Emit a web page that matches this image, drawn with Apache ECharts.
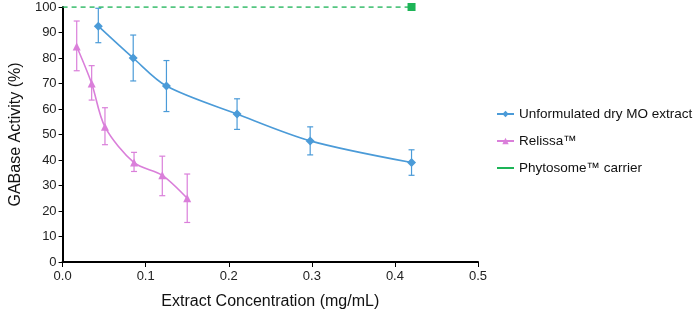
<!DOCTYPE html>
<html>
<head>
<meta charset="utf-8">
<script src="https://cdn.jsdelivr.net/npm/echarts@6/dist/echarts.min.js"></script>
<style>
  html, body { margin: 0; padding: 0; background: #fff; }
  #chart { width: 699px; height: 317px; }
</style>
</head>
<body>
<div id="chart"></div>
<script>
// Unformulated dry MO extract
const moX = [0.043, 0.085, 0.125, 0.21, 0.298, 0.42];
const moY = [92.5, 80, 69, 58, 47.5, 39];
const moLow = [86, 71, 59, 52, 42, 34];
const moHigh = [99.5, 89, 79, 64, 53, 44];

// Relissa
const relX = [0.017, 0.035, 0.051, 0.086, 0.12, 0.15];
const relY = [84.5, 70, 53, 39, 34, 25];
const relLow = [75, 63.5, 46, 35.5, 26, 15.5];
const relHigh = [94.5, 77, 60.5, 43, 41.5, 34.5];

// Phytosome carrier
const phyX = [0, 0.42];
const phyY = [100, 100];

const xTicks = [0, 0.1, 0.2, 0.3, 0.4, 0.5];

const blue = '#4b9bd8';
const pink = '#da7fda';
const green = '#1db457';

const chart = echarts.init(document.getElementById('chart'));

function errorSeries(xs, lows, highs, color) {
  return {
    type: 'custom',
    silent: true,
    z: 1,
    data: xs.map((x, i) => [x, lows[i], highs[i]]),
    renderItem: (params, api) => {
      const lo = api.coord([api.value(0), api.value(1)]);
      const hi = api.coord([api.value(0), api.value(2)]);
      const w = 3;
      const style = { stroke: color, lineWidth: 1.2 };
      return {
        type: 'group',
        children: [
          { type: 'line', shape: { x1: lo[0], y1: lo[1], x2: hi[0], y2: hi[1] }, style },
          { type: 'line', shape: { x1: lo[0] - w, y1: lo[1], x2: lo[0] + w, y2: lo[1] }, style },
          { type: 'line', shape: { x1: hi[0] - w, y1: hi[1], x2: hi[0] + w, y2: hi[1] }, style }
        ]
      };
    }
  };
}

const option = {
  animation: false,
  textStyle: { fontFamily: 'Liberation Sans, Arial, sans-serif' },
  grid: { left: 59, top: 7, width: 419, height: 255 },
  legend: {
    orient: 'vertical',
    left: 491,
    top: 102,
    itemGap: 13,
    itemWidth: 17,
    itemHeight: 8,
    textStyle: { fontSize: 13.5, color: '#111', fontFamily: 'Liberation Sans, Arial, sans-serif' },
    data: [
      'Unformulated dry MO extract',
      'Relissa™',
      { name: 'Phytosome™ carrier', lineStyle: { type: 'solid' }, itemStyle: { opacity: 0 } }
    ]
  },
  xAxis: {
    type: 'value',
    min: 0,
    max: 0.5,
    interval: 0.1,
    name: 'Extract Concentration (mg/mL)',
    nameLocation: 'middle',
    nameGap: 32,
    nameTextStyle: { fontSize: 16, color: '#111' },
    axisLine: { lineStyle: { color: '#000', width: 2 } },
    axisTick: { show: true, length: 5, lineStyle: { color: '#000', width: 1 } },
    axisLabel: {
      fontSize: 13, color: '#222', margin: 8,
      formatter: v => {
        const t = xTicks.find(k => Math.abs(k - v) < 1e-9);
        return t === undefined ? '' : t.toFixed(1);
      }
    },
    splitLine: { show: false }
  },
  yAxis: {
    type: 'value',
    min: 0,
    max: 100,
    interval: 10,
    name: 'GABase Activity (%)',
    nameLocation: 'middle',
    nameGap: 38,
    nameTextStyle: { fontSize: 16, color: '#111' },
    axisLine: { show: true, lineStyle: { color: '#000', width: 2 } },
    axisTick: { show: true, length: 4, lineStyle: { color: '#000', width: 1 } },
    axisLabel: { fontSize: 13, color: '#222', margin: 6 },
    splitLine: { show: false }
  },
  series: [
    errorSeries(moX, moLow, moHigh, blue),
    errorSeries(relX, relLow, relHigh, pink),
    {
      name: 'Unformulated dry MO extract',
      type: 'line',
      smooth: 0.3,
      data: moX.map((x, i) => [x, moY[i]]),
      symbol: 'diamond',
      symbolSize: 9,
      itemStyle: { color: blue },
      lineStyle: { color: blue, width: 1.6 },
      z: 3
    },
    {
      name: 'Relissa™',
      type: 'line',
      smooth: 0.3,
      data: relX.map((x, i) => [x, relY[i]]),
      symbol: 'triangle',
      symbolSize: 8,
      itemStyle: { color: pink },
      lineStyle: { color: pink, width: 1.6 },
      z: 3
    },
    {
      name: 'Phytosome™ carrier',
      type: 'line',
      data: phyX.map((x, i) => [x, phyY[i]]),
      symbol: (v, p) => (p.dataIndex === phyX.length - 1 ? 'rect' : 'none'),
      symbolSize: 8,
      showAllSymbol: true,
      itemStyle: { color: green },
      lineStyle: { color: green, width: 1.5, type: [5, 4] },
      z: 3
    }
  ]
};

chart.setOption(option);
</script>
</body>
</html>
